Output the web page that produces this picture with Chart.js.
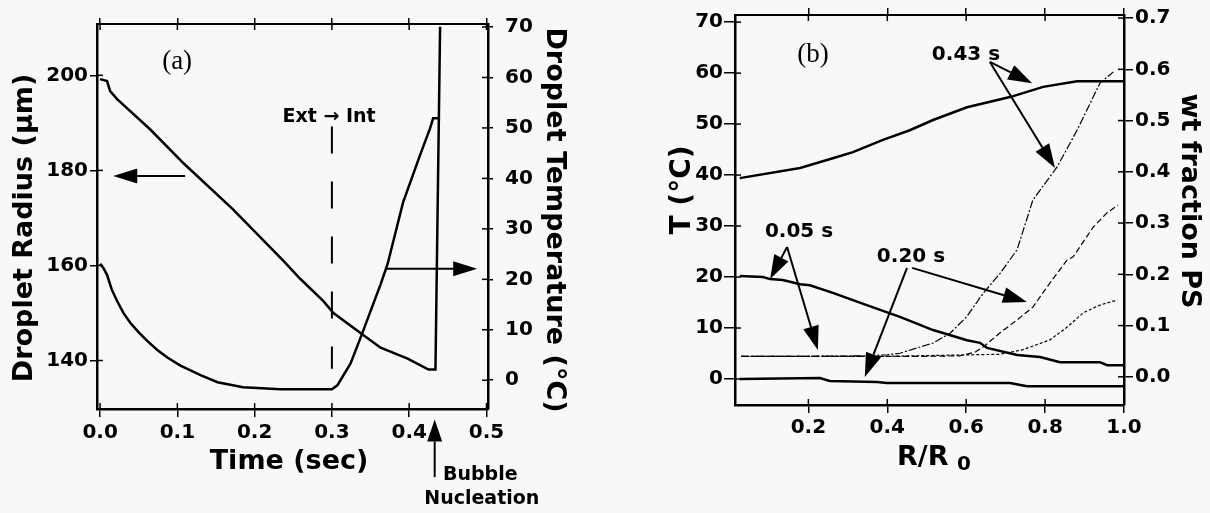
<!DOCTYPE html>
<html>
<head>
<meta charset="utf-8">
<script src="https://cdn.jsdelivr.net/npm/chart.js@4.4.1/dist/chart.umd.min.js"></script>
<style>
  html, body { margin: 0; padding: 0; background: #f8f8f8; }
  #wrap { position: relative; width: 1210px; height: 513px; }
  .box { position: absolute; top: 0; height: 513px; }
  #boxA { left: 0; width: 600px; }
  #boxB { left: 600px; width: 610px; }
</style>
</head>
<body>
<div id="wrap">
  <div class="box" id="boxA"><canvas id="chartA" width="600" height="513"></canvas></div>
  <div class="box" id="boxB"><canvas id="chartB" width="610" height="513"></canvas></div>
</div>
<script>
// ---- panel (a): droplet radius / temperature vs time ----
const radiusTime = [0.000, 0.009, 0.013, 0.022, 0.065, 0.108, 0.172, 0.237, 0.259, 0.289, 0.302, 0.337, 0.363, 0.398, 0.425, 0.434, 0.440];
const radiusUm   = [199.2, 198.8, 196.7, 195.0, 188.6, 181.5, 171.8, 161.0, 157.2, 152.5, 150.0, 145.8, 142.7, 140.4, 138.1, 138.1, 210.2];
const tempTime = [0.000, 0.004, 0.009, 0.015, 0.022, 0.030, 0.039, 0.050, 0.061, 0.074, 0.087, 0.104, 0.130, 0.152, 0.185, 0.233, 0.300, 0.307, 0.324, 0.337, 0.350, 0.363, 0.372, 0.392, 0.415, 0.427, 0.431, 0.440];
const tempC    = [23.1, 22.3, 20.9, 18.0, 15.7, 13.4, 11.4, 9.5, 7.8, 6.0, 4.5, 2.9, 1.0, -0.4, -1.4, -1.8, -1.8, -1.0, 3.3, 8.4, 13.7, 19.0, 23.0, 35.2, 45.0, 49.9, 51.9, 51.9];
const extIntTime = [0.3, 0.3];
const extIntTemp = [50.3, 2.3];
const timeTicks = [0, 0.1, 0.2, 0.3, 0.4, 0.5];
const radiusTicks = [140, 160, 180, 200];
const tempTicksA = [0, 10, 20, 30, 40, 50, 60, 70];

// ---- panel (b): profiles vs R/R0 ----
const rT05 = [0.026, 0.085, 0.103, 0.135, 0.179, 0.204, 0.262, 0.348, 0.432, 0.516, 0.602, 0.635, 0.653, 0.729, 0.787, 0.838, 0.939, 0.957, 0.998];
const T05  = [20.2, 20.0, 19.6, 19.4, 18.6, 18.4, 16.9, 14.5, 12.2, 9.6, 7.6, 7.1, 6.1, 4.7, 4.3, 3.3, 3.3, 2.7, 2.7];
const rT20 = [0.026, 0.229, 0.254, 0.374, 0.399, 0.711, 0.754, 0.998];
const T20  = [0.0, 0.2, -0.4, -0.6, -0.8, -0.8, -1.4, -1.4];
const rT43 = [0.026, 0.179, 0.262, 0.313, 0.389, 0.457, 0.516, 0.602, 0.711, 0.795, 0.881, 0.998];
const T43  = [39.4, 41.4, 43.3, 44.5, 46.9, 48.8, 50.8, 53.3, 55.3, 57.3, 58.4, 58.4];
const rW05 = [0.03, 0.40, 0.686, 0.744, 0.812, 0.856, 0.897, 0.939, 0.983];
const W05  = [0.040, 0.040, 0.044, 0.053, 0.072, 0.097, 0.125, 0.140, 0.150];
const rW20 = [0.03, 0.30, 0.50, 0.584, 0.622, 0.643, 0.686, 0.729, 0.769, 0.812, 0.856, 0.871, 0.922, 0.957, 0.985];
const W20  = [0.040, 0.040, 0.040, 0.041, 0.048, 0.058, 0.086, 0.111, 0.136, 0.183, 0.228, 0.234, 0.292, 0.320, 0.335];
const rW43 = [0.03, 0.20, 0.35, 0.40, 0.432, 0.516, 0.559, 0.602, 0.643, 0.686, 0.729, 0.769, 0.830, 0.881, 0.939, 0.973];
const W43  = [0.040, 0.040, 0.041, 0.043, 0.046, 0.066, 0.085, 0.118, 0.163, 0.202, 0.248, 0.345, 0.409, 0.481, 0.573, 0.595];
const rTicks = [0.2, 0.4, 0.6, 0.8, 1.0];
const tempTicksB = [0, 10, 20, 30, 40, 50, 60, 70];
const wtTicks = [0, 0.1, 0.2, 0.3, 0.4, 0.5, 0.6, 0.7];

Chart.defaults.font.family = 'DejaVu Sans';
Chart.defaults.font.weight = 'bold';
Chart.defaults.font.size = 20;
Chart.defaults.color = '#000';

const xy = (xs, ys) => xs.map((x, i) => ({ x: x, y: ys[i] }));

function curve(xs, ys, yAxis, width, dash) {
    return {
        data: xy(xs, ys),
        xAxisID: 'x',
        yAxisID: yAxis,
        borderColor: '#000',
        borderWidth: width,
        borderDash: dash || [],
        pointRadius: 0,
        tension: 0,
        fill: false
    };
}

function axis(position, min, max, tickVals, size, tickLen, pad, labels, fmt, bw) {
    return {
        type: 'linear',
        axis: (position === 'top' || position === 'bottom') ? 'x' : 'y',
        position: position,
        min: min,
        max: max,
        afterBuildTicks: s => { s.ticks = tickVals.map(v => ({ value: v })); },
        afterFit: s => { if (s.isHorizontal()) s.height = size; else s.width = size; },
        grid: { drawOnChartArea: false, drawTicks: true, tickLength: tickLen, color: '#000', lineWidth: 1.5 },
        border: { display: true, color: '#000', width: bw || 2.5 },
        ticks: { display: labels, padding: pad, maxRotation: 0, autoSkip: false, callback: fmt }
    };
}

const decor = {
    id: 'decor',
    afterDatasetsDraw(chart, args, o) {
        const ctx = chart.ctx, a = chart.chartArea;
        ctx.save();
        ctx.fillStyle = '#000';
        ctx.strokeStyle = '#000';
        // tick marks that reach inside the frame
        ctx.lineWidth = 1.5;
        Object.values(chart.scales).forEach(s => {
            s.ticks.forEach(t => {
                const p = s.getPixelForValue(t.value);
                ctx.beginPath();
                if (s.isHorizontal()) {
                    const y = s.position === 'top' ? a.top : a.bottom;
                    ctx.moveTo(p, y);
                    ctx.lineTo(p, y + (s.position === 'top' ? o.inner : -o.inner));
                } else {
                    const x = s.position === 'left' ? a.left : a.right;
                    ctx.moveTo(x, p);
                    ctx.lineTo(x + (s.position === 'left' ? o.inner : -o.inner), p);
                }
                ctx.stroke();
            });
        });
        // arrows, given in data units
        (o.arrows || []).forEach(ar => {
            const sx = chart.scales[ar.xs], sy = chart.scales[ar.ys];
            const x1 = sx.getPixelForValue(ar.from[0]), y1 = sy.getPixelForValue(ar.from[1]);
            const x2 = sx.getPixelForValue(ar.to[0]), y2 = sy.getPixelForValue(ar.to[1]);
            const ang = Math.atan2(y2 - y1, x2 - x1);
            const L = ar.head || 24, W = ar.half || 7.5;
            const bx = x2 - L * Math.cos(ang), by = y2 - L * Math.sin(ang);
            ctx.lineWidth = 2;
            ctx.beginPath();
            ctx.moveTo(x1, y1);
            ctx.lineTo(bx, by);
            ctx.stroke();
            ctx.beginPath();
            ctx.moveTo(x2, y2);
            ctx.lineTo(bx + W * Math.sin(ang), by - W * Math.cos(ang));
            ctx.lineTo(bx - W * Math.sin(ang), by + W * Math.cos(ang));
            ctx.closePath();
            ctx.fill();
        });
        // texts
        (o.texts || []).forEach(t => {
            let x = t.at[0], y = t.at[1];
            if (t.xs) {
                x = chart.scales[t.xs].getPixelForValue(t.at[0]);
                y = chart.scales[t.ys].getPixelForValue(t.at[1]);
            }
            ctx.save();
            ctx.font = t.font;
            ctx.textAlign = t.align || 'center';
            ctx.textBaseline = t.base || 'middle';
            ctx.translate(x, y);
            ctx.rotate(t.rot || 0);
            ctx.fillText(t.text, 0, 0);
            ctx.restore();
        });
        ctx.restore();
    }
};

const TITLE = 'bold 27px "DejaVu Sans"';
const fmt1 = v => v.toFixed(1);
const fmt0 = v => String(v);

new Chart(document.getElementById('chartA'), {
    type: 'line',
    data: {
        datasets: [
            curve(radiusTime, radiusUm, 'yR', 2.5),
            curve(tempTime, tempC, 'yT', 2.5),
            curve(extIntTime, extIntTemp, 'yT', 2, [27, 28])
        ]
    },
    options: {
        responsive: false,
        animation: false,
        layout: { padding: 0 },
        plugins: {
            legend: { display: false },
            tooltip: { enabled: false },
            decor: {
                inner: 6,
                arrows: [
                    { xs: 'x', ys: 'yR', from: [0.110, 178.8], to: [0.017, 178.8] },
                    { xs: 'x', ys: 'yT', from: [0.369, 22.1], to: [0.488, 22.1] },
                    { xs: 'x', ys: 'yT', from: [0.433, -19.2], to: [0.433, -7.8], head: 22 }
                ],
                texts: [
                    { text: '(a)', xs: 'x', ys: 'yR', at: [0.0997, 202.9], font: '27px "Liberation Serif"' },
                    { text: 'Ext \u2192 Int', xs: 'x', ys: 'yR', at: [0.236, 191.3], align: 'left', font: 'bold 19px "DejaVu Sans"' },
                    { text: 'Bubble', xs: 'x', ys: 'yT', at: [0.492, -18.8], font: 'bold 19px "DejaVu Sans"' },
                    { text: 'Nucleation', xs: 'x', ys: 'yT', at: [0.494, -23.5], font: 'bold 19px "DejaVu Sans"' },
                    { text: 'Droplet Radius (\u00b5m)', at: [25, 228], rot: -Math.PI / 2, font: TITLE },
                    { text: 'Droplet Temperature (\u00b0C)', at: [554, 220], rot: Math.PI / 2, font: TITLE },
                    { text: 'Time (sec)', at: [289, 462], font: TITLE }
                ]
            }
        },
        scales: {
            x: axis('bottom', -0.004, 0.502, timeTicks, 104, 8, 4, true, fmt1),
            xTop: axis('top', -0.004, 0.502, timeTicks, 19, 6, 0, false, fmt1, 2),
            yR: axis('left', 129.8, 210.8, radiusTicks, 97, 7, 2, true, fmt0),
            yT: axis('right', -5.7, 70.6, tempTicksA, 112, 5, 12, true, fmt0)
        }
    },
    plugins: [decor]
});

new Chart(document.getElementById('chartB'), {
    type: 'line',
    data: {
        datasets: [
            curve(rW05, W05, 'yW', 1.2, [3, 2]),
            curve(rW20, W20, 'yW', 1.2, [6, 3]),
            curve(rW43, W43, 'yW', 1.2, [8, 2, 2, 2]),
            curve(rT05, T05, 'yT', 2.5),
            curve(rT20, T20, 'yT', 2.5),
            curve(rT43, T43, 'yT', 2.5)
        ]
    },
    options: {
        responsive: false,
        animation: false,
        layout: { padding: 0 },
        plugins: {
            legend: { display: false },
            tooltip: { enabled: false },
            decor: {
                inner: 6,
                arrows: [
                    { xs: 'x', ys: 'yT', from: [0.146, 25.9], to: [0.103, 19.6], half: 8 },
                    { xs: 'x', ys: 'yT', from: [0.146, 25.9], to: [0.224, 5.7], half: 8 },
                    { xs: 'x', ys: 'yT', from: [0.450, 21.8], to: [0.343, 0.4], half: 8 },
                    { xs: 'x', ys: 'yT', from: [0.463, 21.8], to: [0.754, 15.1], half: 8 },
                    { xs: 'x', ys: 'yT', from: [0.660, 62.2], to: [0.767, 58.0], half: 8 },
                    { xs: 'x', ys: 'yT', from: [0.660, 62.2], to: [0.825, 41.4], half: 8 }
                ],
                texts: [
                    { text: '(b)', xs: 'x', ys: 'yT', at: [0.2115, 63.5], font: '27px "Liberation Serif"' },
                    { text: '0.43 s', xs: 'x', ys: 'yT', at: [0.513, 63.5], align: 'left', font: 'bold 20px "DejaVu Sans"' },
                    { text: '0.05 s', xs: 'x', ys: 'yT', at: [0.0898, 28.8], align: 'left', font: 'bold 20px "DejaVu Sans"' },
                    { text: '0.20 s', xs: 'x', ys: 'yT', at: [0.3736, 23.9], align: 'left', font: 'bold 20px "DejaVu Sans"' },
                    { text: 'T (\u00b0C)', at: [83, 190], rot: -Math.PI / 2, font: 'bold 28px "DejaVu Sans"' },
                    { text: 'wt fraction PS', at: [589, 201], rot: Math.PI / 2, font: TITLE },
                    { text: 'R/R', at: [297, 465], align: 'left', base: 'alphabetic', font: TITLE },
                    { text: '0', at: [357, 470], align: 'left', base: 'alphabetic', font: 'bold 20px "DejaVu Sans"' }
                ]
            }
        },
        scales: {
            x: axis('bottom', 0.014, 1.0, rTicks, 108, 8, 3, true, fmt1),
            xTop: axis('top', 0.014, 1.0, rTicks, 15, 7, 0, false, fmt1, 2),
            yT: axis('left', -5.1, 71.4, tempTicksB, 135, 11, 1, true, fmt0),
            yW: axis('right', -0.055, 0.706, wtTicks, 86, 9, 2, true, fmt1)
        }
    },
    plugins: [decor]
});
</script>
</body>
</html>
